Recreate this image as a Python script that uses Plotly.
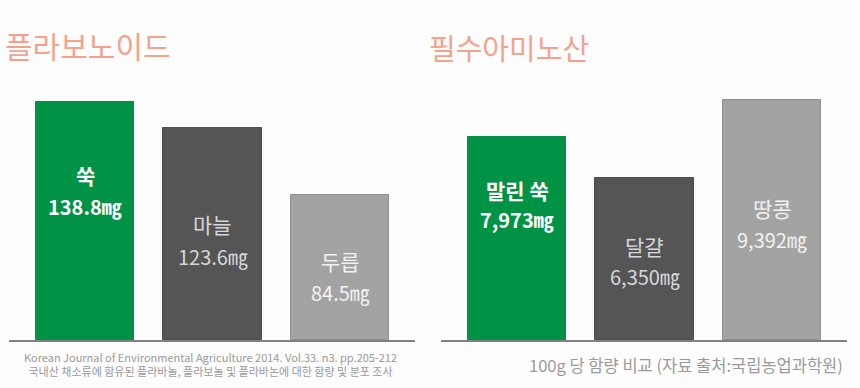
import plotly.graph_objects as go

# ---- data ----
flav_labels = ["쑥", "마늘", "두릅"]
flav_values = [138.8, 123.6, 84.5]
flav_text = ["138.8㎎", "123.6㎎", "84.5㎎"]

amino_labels = ["말린 쑥", "달걀", "땅콩"]
amino_values = [7973, 6350, 9392]
amino_text = ["7,973㎎", "6,350㎎", "9,392㎎"]

title_left = "플라보노이드"
title_right = "필수아미노산"
note_left = ("Korean Journal of Environmental Agriculture 2014. Vol.33. n3. pp.205-212<br>"
             "국내산 채소류에 함유된 플라바놀, 플라보놀 및 플라바논에 대한 함량 및 분포 조사")
note_right = "100g 당 함량 비교 (자료 출처:국립농업과학원)"

# ---- style ----
FONT = "Noto Sans CJK KR"
bar_colors = ["#009245", "#555555", "#a3a3a3"]
bar_lines = ["#0a8a44", "#4f4f4f", "#8f8f8f"]
txt_colors = ["#ffffff", "#d6d6d6", "#f2f2f2"]
txt_bold = [True, False, False]
title_color = "#f5a28c"
BG = "#fdfdfd"

# label / value vertical offsets (px below bar top)
left_lab_off = [73, 96, 66]
left_val_off = [104, 128, 97]
right_lab_off = [53, 68, 108]
right_val_off = [83, 98, 139]

fig = go.Figure()
fig.add_trace(go.Bar(x=flav_labels, y=flav_values, width=0.77,
                     marker=dict(color=bar_colors, line=dict(color=bar_lines, width=1)),
                     xaxis="x", yaxis="y", hoverinfo="skip", showlegend=False))
fig.add_trace(go.Bar(x=amino_labels, y=amino_values, width=0.77,
                     marker=dict(color=bar_colors, line=dict(color=bar_lines, width=1)),
                     xaxis="x2", yaxis="y2", hoverinfo="skip", showlegend=False))

ann = []
def add_labels(labels, values, texts, lab_off, val_off, xr, yr):
    for i, (lab, v, t) in enumerate(zip(labels, values, texts)):
        b = txt_bold[i]
        ann.append(dict(x=lab, y=v, xref=xr, yref=yr, yshift=-lab_off[i],
                        text=f"<b>{lab}</b>" if b else lab, showarrow=False,
                        font=dict(family=FONT, size=21, color=txt_colors[i])))
        ann.append(dict(x=lab, y=v, xref=xr, yref=yr, yshift=-val_off[i],
                        text=f"<b>{t}</b>" if b else t, showarrow=False,
                        font=dict(family=FONT, size=20, color=txt_colors[i])))

add_labels(flav_labels, flav_values, flav_text, left_lab_off, left_val_off, "x", "y")
add_labels(amino_labels, amino_values, amino_text, right_lab_off, right_val_off, "x2", "y2")

ann.append(dict(x=0.004, y=0.885, xref="paper", yref="paper", xanchor="left", yanchor="middle",
                text=title_left, showarrow=False, font=dict(family=FONT, size=30, color=title_color)))
ann.append(dict(x=0.497, y=0.88, xref="paper", yref="paper", xanchor="left", yanchor="middle",
                text=title_right, showarrow=False, font=dict(family=FONT, size=29, color=title_color)))
ann.append(dict(x=0.245, y=0.063, xref="paper", yref="paper", xanchor="center", yanchor="middle",
                text=note_left, showarrow=False, align="center",
                font=dict(family=FONT, size=11, color="#9a9a9a")))
ann.append(dict(x=0.983, y=0.06, xref="paper", yref="paper", xanchor="right", yanchor="middle",
                text=note_right, showarrow=False,
                font=dict(family=FONT, size=16.5, color="#9a9a9a")))

xax = dict(type="category", range=[-0.596, 2.588], showticklabels=False, ticks="",
           showgrid=False, zeroline=False, showline=True, linecolor="#808080", linewidth=2,
           fixedrange=True)
fig.update_layout(
    width=860, height=388,
    margin=dict(l=0, r=0, t=0, b=0),
    paper_bgcolor=BG, plot_bgcolor=BG,
    bargap=0,
    xaxis=dict(xax, domain=[9 / 860, 415 / 860], anchor="y"),
    xaxis2=dict(xax, domain=[441 / 860, 847 / 860], anchor="y2"),
    yaxis=dict(domain=[48 / 388, 1], range=[0, 198.3], visible=False, showgrid=False, fixedrange=True),
    yaxis2=dict(domain=[48 / 388, 1], range=[0, 13328], visible=False, showgrid=False, fixedrange=True),
    annotations=ann,
)

fig.write_html("out.html", config={"displayModeBar": False},
               post_script="document.body.style.margin='0';document.body.style.overflow='hidden';")
